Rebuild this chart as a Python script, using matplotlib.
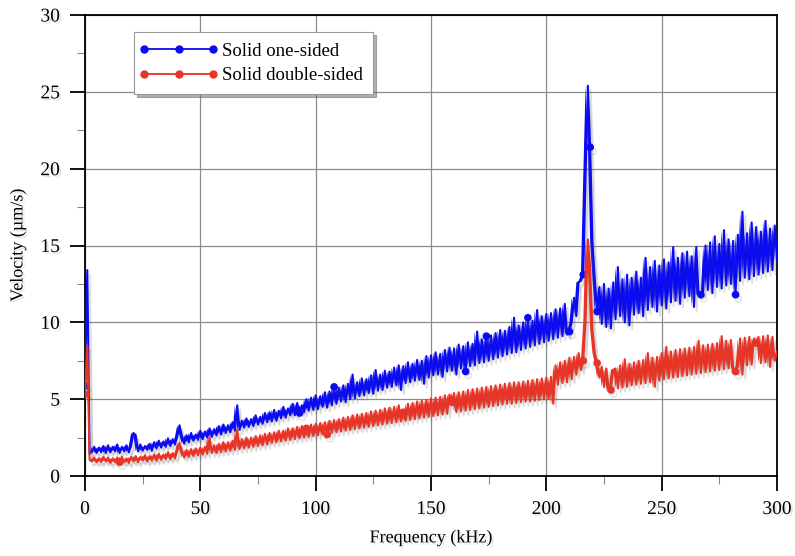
import numpy as np
import matplotlib
matplotlib.use("Agg")
import matplotlib.pyplot as plt
import matplotlib.patheffects as pe
from matplotlib.ticker import MultipleLocator
from matplotlib.legend_handler import HandlerLine2D

plt.rcParams['font.family'] = ['Liberation Serif', 'DejaVu Serif']

# Frequency axis (kHz), one sample per kHz
freq_khz = np.arange(0, 301, 1)

# Solid one-sided velocity (um/s)
one_sided = [
    5.85, 13.4, 1.45, 1.55, 1.9, 1.5, 1.85, 1.55, 1.95, 1.5,
    2.0, 1.55, 1.9, 1.6, 2.05, 1.5, 1.9, 1.6, 2.0, 1.55,
    1.95, 2.8, 2.65, 1.6, 2.05, 1.65, 1.95, 1.7, 2.1, 1.65,
    2.2, 1.8, 2.3, 1.85, 2.25, 1.9, 2.45, 1.95, 2.4, 2.05,
    2.55, 3.3, 2.6, 2.1, 2.65, 2.2, 2.8, 2.3, 2.7, 2.35,
    2.95, 2.4, 2.9, 2.5, 3.1, 2.55, 3.05, 2.65, 3.25, 2.7,
    3.35, 2.8, 3.3, 2.85, 3.5, 2.95, 4.6, 3.0, 3.6, 3.15,
    3.75, 3.2, 3.7, 3.25, 3.95, 3.35, 3.85, 3.4, 4.1, 3.5,
    4.15, 3.55, 4.3, 3.6, 4.25, 3.75, 4.5, 3.8, 4.4, 3.95,
    4.7, 3.95, 4.75, 4.1, 4.6, 4.15, 5.0, 4.25, 5.1, 4.3,
    5.25, 4.35, 5.2, 4.5, 5.45, 4.45, 5.5, 4.6, 5.8, 4.7,
    5.75, 4.85, 5.9, 4.8, 6.0, 5.0, 6.6, 5.05, 6.1, 5.2,
    6.35, 5.25, 6.3, 5.4, 6.55, 5.35, 6.9, 5.55, 6.6, 5.6,
    6.85, 5.75, 6.8, 5.8, 7.05, 5.9, 7.2, 5.6, 7.15, 6.05,
    7.4, 6.1, 7.3, 6.2, 7.55, 6.25, 7.5, 6.0, 7.8, 6.4,
    7.85, 6.55, 8.05, 6.6, 7.95, 6.45, 8.2, 6.8, 8.35, 6.85,
    8.3, 6.6, 8.55, 7.0, 8.45, 6.8, 8.7, 7.15, 8.6, 7.2,
    9.4, 7.35, 8.9, 7.4, 9.1, 7.5, 9.15, 7.6, 9.3, 7.7,
    9.5, 7.8, 9.45, 7.9, 9.7, 8.0, 10.3, 8.05, 9.8, 8.2,
    10.0, 8.3, 10.3, 8.4, 10.1, 8.5, 10.8, 8.6, 10.4, 8.7,
    10.55, 8.8, 10.6, 8.9, 10.85, 9.0, 10.9, 9.1, 11.2, 9.2,
    9.4, 10.0, 11.6, 10.4, 12.6, 12.7, 13.1, 19.5, 25.4, 21.4,
    15.2, 12.8, 10.7, 12.3, 9.9, 12.5, 9.7, 12.2, 9.6, 12.6,
    10.2, 13.6, 10.4, 12.8, 10.0, 13.1, 9.8, 12.9, 10.5, 13.3,
    10.6, 12.9, 10.4, 14.2, 10.8, 13.6, 11.0, 14.0, 10.7, 13.7,
    11.1, 14.1, 10.9, 13.9, 11.3, 14.9, 11.4, 14.2, 11.2, 14.5,
    11.6, 14.6, 11.7, 14.3, 11.0, 14.9, 11.8, 11.8, 12.0, 15.0,
    12.1, 15.2, 11.9, 15.6, 12.3, 15.1, 12.2, 16.0, 12.4, 15.4,
    12.5, 15.3, 11.8, 15.7, 12.7, 17.2, 12.9, 15.8, 12.8, 16.5,
    13.0, 16.2, 13.1, 15.9, 13.2, 16.6, 13.3, 16.1, 13.4, 16.3, 14.0,
]

# Solid double-sided velocity (um/s)
double_sided = [
    5.3, 8.5, 1.05, 0.95, 1.2, 0.9, 1.15, 0.9, 1.25, 0.95,
    1.2, 0.85, 1.15, 0.9, 1.2, 0.9, 1.25, 0.9, 1.15, 0.85,
    1.25, 0.95, 1.3, 0.9, 1.25, 1.0, 1.35, 0.95, 1.3, 1.0,
    1.4, 1.0, 1.45, 1.05, 1.4, 1.1, 1.55, 1.1, 1.5, 1.15,
    1.6, 2.15, 1.65, 1.2, 1.7, 1.25, 1.75, 1.3, 1.8, 1.35,
    1.85, 1.4, 1.9, 1.45, 2.5, 1.5, 2.0, 1.5, 2.1, 1.55,
    2.2, 1.6, 2.2, 1.65, 2.3, 1.7, 3.0, 1.75, 2.4, 1.8,
    2.5, 1.85, 2.5, 1.9, 2.6, 1.95, 2.65, 2.0, 2.75, 2.05,
    2.8, 2.15, 2.85, 2.2, 2.95, 2.25, 2.95, 2.3, 3.1, 2.35,
    3.1, 2.4, 3.2, 2.45, 3.25, 2.5, 3.1, 2.55, 3.35, 2.6,
    3.4, 2.65, 3.45, 2.7, 3.5, 2.7, 3.6, 2.8, 3.65, 2.85,
    3.7, 2.9, 3.8, 2.95, 3.85, 3.0, 3.95, 3.05, 4.0, 3.1,
    4.05, 3.15, 4.1, 3.2, 4.2, 3.25, 4.25, 3.3, 4.3, 3.35,
    4.4, 3.4, 4.45, 3.45, 4.5, 3.5, 4.6, 3.55, 4.15, 3.6,
    4.7, 3.65, 4.75, 3.7, 4.85, 3.75, 4.9, 3.8, 4.95, 3.85,
    5.05, 3.9, 5.1, 3.95, 5.15, 4.0, 5.25, 4.05, 5.3, 4.8,
    5.4, 4.15, 5.45, 4.2, 5.5, 4.25, 5.6, 4.3, 5.65, 4.35,
    5.7, 4.4, 5.75, 4.45, 5.8, 4.5, 5.85, 4.55, 5.9, 4.6,
    5.95, 4.65, 6.0, 4.7, 6.05, 4.7, 6.1, 4.75, 6.1, 4.8,
    6.15, 4.85, 6.2, 4.85, 6.25, 4.9, 6.3, 4.95, 6.35, 5.0,
    6.4, 5.0, 6.45, 4.7, 7.2, 5.95, 7.4, 6.05, 7.5, 6.1,
    7.7, 6.3, 7.75, 6.6, 8.0, 6.9, 7.5, 10.0, 15.4, 13.5,
    9.5, 8.0, 7.35, 6.4, 7.1, 5.8, 7.0, 5.7, 5.6, 6.9,
    7.0, 5.7, 7.2, 5.75, 7.6, 5.8, 7.3, 5.9, 7.4, 5.95,
    7.5, 6.0, 7.55, 6.05, 8.0, 6.1, 7.7, 5.8, 7.75, 6.2,
    8.0, 6.3, 8.4, 6.35, 8.1, 6.4, 8.2, 6.45, 8.25, 6.5,
    8.3, 6.55, 8.35, 6.6, 8.4, 6.65, 8.8, 6.7, 8.5, 6.75,
    8.55, 6.8, 8.6, 6.85, 8.65, 6.9, 9.1, 6.95, 8.8, 7.0,
    8.85, 7.05, 6.8, 7.1, 8.95, 6.6, 9.0, 7.2, 9.05, 7.25,
    8.95, 8.65, 9.05, 7.35, 9.1, 7.4, 9.15, 7.1, 9.05, 7.5, 8.1,
]

# Sample indices where the circle markers are visible
one_sided_marker_idx = [0, 93, 108, 165, 174, 192, 210, 216, 219, 222, 267, 282]
double_sided_marker_idx = [0, 15, 96, 105, 138, 159, 216, 222, 228, 282, 291]

series_labels = ["Solid one-sided", "Solid double-sided"]
series_colors = ["#0b0bf2", "#e83426"]

x_ticks = [0, 50, 100, 150, 200, 250, 300]
y_ticks = [0, 5, 10, 15, 20, 25, 30]

fig = plt.figure(figsize=(7.95, 5.56), dpi=100)
ax = fig.add_axes([0.1069, 0.1439, 0.8705, 0.8291])

shadow = [pe.SimpleLineShadow(offset=(2, -3), shadow_color='#666666', alpha=0.18),
          pe.Normal()]
fill_shadow = [pe.SimplePatchShadow(offset=(2, -3), shadow_rgbFace='#666666', alpha=0.18),
               pe.Normal()]

x = np.asarray(freq_khz, dtype=float)
for z, (vals, idx, lab, col) in enumerate(zip([one_sided, double_sided],
                                             [one_sided_marker_idx, double_sided_marker_idx],
                                             series_labels, series_colors)):
    v = np.asarray(vals, dtype=float)
    # solid noise band between consecutive samples (dense trace look)
    ax.fill_between(x[2:-1], v[2:-1], v[3:], color=col, lw=0, zorder=3 + z,
                    path_effects=fill_shadow)
    ax.plot(x, v, color=col, lw=1.5, marker='o', ms=4.5,
            markevery=idx, label=lab, zorder=3 + z, path_effects=shadow)

ax.set_xlim(0, 300)
ax.set_ylim(0, 30)
ax.set_xticks(x_ticks)
ax.set_yticks(y_ticks)
ax.xaxis.set_minor_locator(MultipleLocator(25))
ax.yaxis.set_minor_locator(MultipleLocator(2.5))
ax.grid(True, which='major', color='#8c8c8c', lw=0.9, zorder=0)
ax.set_axisbelow(True)

ax.tick_params(which='major', direction='out', length=11, width=1.3,
               labelsize=14, pad=7, color='black')
ax.tick_params(which='minor', direction='out', length=6, width=0.8,
               color='#888888')
for sp in ax.spines.values():
    sp.set_linewidth(1.3)
    sp.set_color('black')

txt_shadow = [pe.withSimplePatchShadow(offset=(1.5, -1.5), shadow_rgbFace='#888888', alpha=0.2)]
for lbl in ax.get_xticklabels() + ax.get_yticklabels():
    lbl.set_path_effects(txt_shadow)

ax.set_xlabel("Frequency (kHz)", fontsize=13, labelpad=8, path_effects=txt_shadow)
ax.set_ylabel("Velocity (µm/s)", fontsize=13, labelpad=10, path_effects=txt_shadow)

handles, labels = ax.get_legend_handles_labels()
leg = ax.legend(handles, labels, loc='upper left', bbox_to_anchor=(0.0708, 0.963),
                borderaxespad=0, fontsize=13.5, numpoints=3, handlelength=3.65,
                handletextpad=0.5, labelspacing=0.4, borderpad=0.55,
                fancybox=False, shadow={'color': '#666666', 'alpha': 0.5},
                framealpha=1, edgecolor='#999999',
                handler_map={h: HandlerLine2D(marker_pad=0, numpoints=3) for h in handles})
leg.get_frame().set_linewidth(0.8)
leg.set_zorder(10)
for ln in leg.get_lines():
    ln.set_markevery(None)
    ln.set_linewidth(1.3)
    ln.set_markersize(5)
    ln.set_path_effects([])

fig.savefig("out.png", dpi=100)
